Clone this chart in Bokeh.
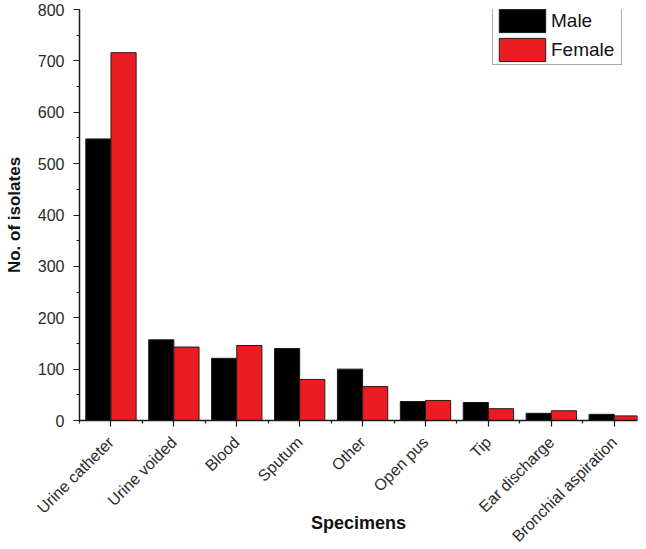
import math
from bokeh.plotting import figure
from bokeh.models import (ColumnDataSource, FixedTicker, SingleIntervalTicker, Range1d,
                          Legend, LegendItem)
from bokeh.embed import file_html
from bokeh.resources import INLINE

categories = ["Urine catheter", "Urine voided", "Blood", "Sputum", "Other",
              "Open pus", "Tip", "Ear discharge", "Bronchial aspiration"]
male = [548, 157, 121, 140, 100, 37, 35, 14, 12]
female = [716, 143, 146, 80, 66, 39, 23, 19, 9]
series_names = ["Male", "Female"]

FONT = "Liberation Sans"
TXT = "#2a2a2a"

pos = list(range(1, len(categories) + 1))
src = ColumnDataSource(dict(
    xm=[p_ - 0.2 for p_ in pos],
    xf=[p_ + 0.2 for p_ in pos],
    male=male, female=female, cat=categories))

p = figure(frame_width=558, frame_height=411, output_backend="svg", toolbar_location=None,
           x_range=Range1d(0.5, 9.37), y_range=Range1d(0, 800),
           min_border_left=79, min_border_right=8, min_border_top=9,
           min_border_bottom=129)
p.outline_line_color = None
p.xgrid.visible = False
p.ygrid.visible = False
p.background_fill_color = "white"
p.border_fill_color = "white"

rm = p.vbar(x="xm", top="male", width=0.4, bottom=0, source=src,
            fill_color="#000000", line_color="#1a1a1a", line_width=1)
rf = p.vbar(x="xf", top="female", width=0.4, bottom=0, source=src,
            fill_color="#ED1C24", line_color="#2a1a1a", line_width=1)

# Y axis
ya = p.yaxis[0]
ya.ticker = SingleIntervalTicker(interval=100, num_minor_ticks=2)
ya.axis_line_width = 1.5
ya.axis_line_color = "#1a1a1a"
ya.major_tick_line_color = "#1a1a1a"
ya.minor_tick_line_color = "#1a1a1a"
ya.major_tick_out = 6
ya.major_tick_in = 0
ya.minor_tick_out = 3
ya.minor_tick_in = 0
ya.major_tick_line_width = 1.2
ya.minor_tick_line_width = 1.2
ya.major_label_text_font = FONT
ya.major_label_text_font_size = "16px"
ya.major_label_text_color = TXT
ya.major_label_standoff = 9
ya.axis_label = "No. of isolates"
ya.axis_label_text_font = FONT
ya.axis_label_text_font_size = "17px"
ya.axis_label_text_font_style = "bold"
ya.axis_label_text_color = "#111111"
ya.axis_label_standoff = 11

# X axis
xa = p.xaxis[0]
xa.ticker = FixedTicker(ticks=pos, minor_ticks=[p_ - 0.5 for p_ in pos])
xa.major_label_overrides = {p_: c for p_, c in zip(pos, categories)}
xa.major_label_orientation = math.pi / 4
xa.axis_line_width = 1.5
xa.axis_line_color = "#1a1a1a"
xa.major_tick_line_color = "#1a1a1a"
xa.minor_tick_line_color = "#1a1a1a"
xa.major_tick_out = 6
xa.major_tick_in = 0
xa.minor_tick_out = 3
xa.minor_tick_in = 0
xa.major_tick_line_width = 1.2
xa.minor_tick_line_width = 1.2
xa.major_label_text_font = FONT
xa.major_label_text_font_size = "16px"
xa.major_label_text_color = TXT
xa.major_label_standoff = 13
xa.axis_label = "Specimens"
xa.axis_label_text_font = FONT
xa.axis_label_text_font_size = "18px"
xa.axis_label_text_font_style = "bold"
xa.axis_label_text_color = "#111111"
xa.axis_label_standoff = -41

legend = Legend(items=[LegendItem(label=series_names[0], renderers=[rm]),
                       LegendItem(label=series_names[1], renderers=[rf])],
                location=(413, 355), padding=0, spacing=-1,
                glyph_width=58, glyph_height=29, label_standoff=0, label_width=70,
                label_text_font=FONT, label_text_font_size="19px",
                label_text_color="#111111",
                border_line_color="#555555", border_line_width=1.5,
                background_fill_color="white", background_fill_alpha=1.0,
                margin=0)
p.add_layout(legend)

open("out.html", "w").write(file_html(p, INLINE))
